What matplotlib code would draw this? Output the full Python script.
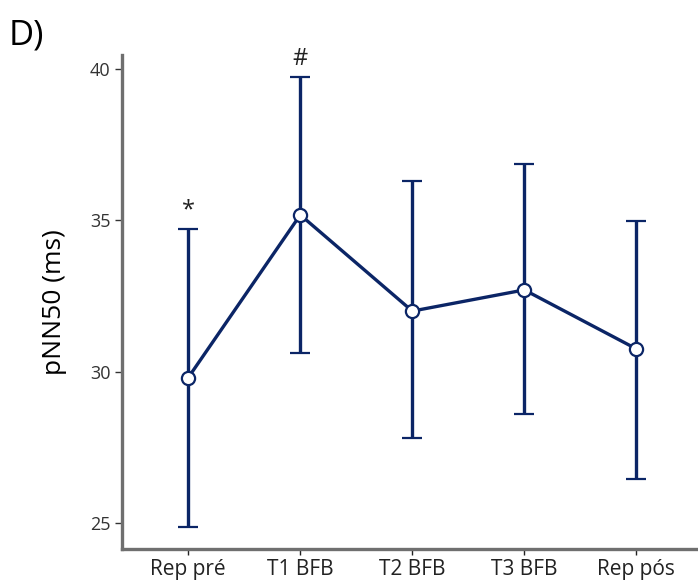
import matplotlib

matplotlib.use("Agg")

import matplotlib.pyplot as plt  # noqa: E402

plt.rcParams["font.family"] = ["Open Sans", "DejaVu Sans"]

_NAVY = "#0b2566"
_GRAY = "#6f6f6f"

groups = ["Rep pré", "T1 BFB", "T2 BFB", "T3 BFB", "Rep pós"]
means = [29.8, 35.18, 32.0, 32.7, 30.75]
upper = [34.72, 39.74, 36.3, 36.86, 34.98]
lower = [24.87, 30.62, 27.8, 28.6, 26.45]
marks = ["*", "#", "", "", ""]

x = list(range(len(groups)))
err_lo = [m - lo for m, lo in zip(means, lower)]
err_hi = [hi - m for m, hi in zip(means, upper)]

fig = plt.figure(figsize=(6.98, 5.87), dpi=100)
ax = fig.add_axes([0.175, 0.065, 0.825, 0.841])

ax.errorbar(x, means, yerr=[err_lo, err_hi], color=_NAVY, linewidth=2.4,
            elinewidth=2.4, capsize=7, capthick=3, marker="o", markersize=9.5,
            markerfacecolor="white", markeredgecolor=_NAVY, markeredgewidth=1.6,
            zorder=3)

for xi, hi, m in zip(x, upper, marks):
    if m:
        ax.text(xi, hi + 0.2, m, ha="center", va="bottom", fontsize=17,
                color="#222222")

ax.set_xlim(-0.59, 4.55)
ax.set_ylim(24.14, 40.46)
ax.set_yticks([25, 30, 35, 40])
ax.set_xticks(x)
ax.set_xticklabels(groups, fontsize=15)
ax.tick_params(axis="y", labelsize=13, colors="#333333", length=5, width=1)
ax.tick_params(axis="x", length=4, width=1, colors="#222222", pad=3)
for t in ax.get_xticklines() + ax.get_yticklines():
    t.set_color(_GRAY)

for side in ("top", "right"):
    ax.spines[side].set_visible(False)
for side in ("left", "bottom"):
    ax.spines[side].set_color(_GRAY)
    ax.spines[side].set_linewidth(2.4)

ax.set_ylabel("pNN50 (ms)", fontsize=19, labelpad=16)
fig.text(0.012, 0.925, "D)", fontsize=25)

fig.savefig("out.png", dpi=100)
